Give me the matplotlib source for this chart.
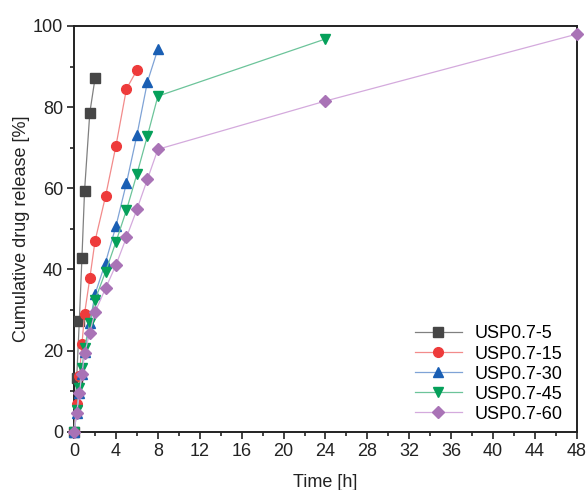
import matplotlib.pyplot as plt
from matplotlib.ticker import MultipleLocator

plt.rcParams['font.family'] = ['Liberation Sans', 'DejaVu Sans']

# release data, time in hours, cumulative release in %
t_5 = [0, 0.25, 0.5, 0.75, 1, 1.5, 2]
rel_5 = [0, 13.2, 27.3, 42.9, 59.4, 78.6, 87.1]

t_15 = [0, 0.25, 0.5, 0.75, 1, 1.5, 2, 3, 4, 5, 6]
rel_15 = [0, 6.8, 13.7, 21.5, 29.1, 37.8, 47.0, 58.0, 70.5, 84.5, 89.1]

t_30 = [0, 0.25, 0.5, 0.75, 1, 1.5, 2, 3, 4, 5, 6, 7, 8]
rel_30 = [0, 4.5, 9.6, 14.2, 19.6, 26.8, 33.9, 41.7, 50.7, 61.3, 73.1, 86.2, 94.3]

t_45 = [0, 0.25, 0.5, 0.75, 1, 1.5, 2, 3, 4, 5, 6, 7, 8, 24]
rel_45 = [0, 5.3, 10.7, 15.6, 20.7, 26.8, 32.5, 39.4, 46.8, 54.6, 63.5, 72.9, 82.7, 96.8]

t_60 = [0, 0.25, 0.5, 0.75, 1, 1.5, 2, 3, 4, 5, 6, 7, 8, 24, 48]
rel_60 = [0, 4.7, 9.5, 14.2, 19.3, 24.4, 29.5, 35.3, 41.1, 47.9, 54.8, 62.2, 69.6, 81.5, 98.0]

series = [
    ('USP0.7-5', t_5, rel_5, 's', '#464646', '#808080', 6.5),
    ('USP0.7-15', t_15, rel_15, 'o', '#ee3b3b', '#f28b8b', 7),
    ('USP0.7-30', t_30, rel_30, '^', '#1a5fb4', '#7fa3d6', 7.5),
    ('USP0.7-45', t_45, rel_45, 'v', '#05a05a', '#6cc49a', 7.5),
    ('USP0.7-60', t_60, rel_60, 'D', '#a973b6', '#d4aadd', 6),
]

fig = plt.figure(figsize=(5.88, 4.90), dpi=100)
ax = fig.add_axes([0.126, 0.119, 0.855, 0.828])

for name, t, rel, mk, mc, lc, ms in series:
    ax.plot(t, rel, color=lc, linewidth=0.9, marker=mk, markersize=ms,
            markerfacecolor=mc, markeredgecolor=mc, label=name, clip_on=False, zorder=3)

ax.set_xlim(0, 48)
ax.set_ylim(0, 100)
ax.xaxis.set_major_locator(MultipleLocator(4))
ax.xaxis.set_minor_locator(MultipleLocator(2))
ax.yaxis.set_major_locator(MultipleLocator(20))
ax.yaxis.set_minor_locator(MultipleLocator(10))

for sp in ax.spines.values():
    sp.set_linewidth(1.4)
    sp.set_color('#222222')
ax.tick_params(which='major', direction='out', length=5, width=1.2, labelsize=13,
               colors='#222222', pad=3)
ax.tick_params(which='minor', direction='out', length=3, width=1.2, colors='#222222')

ax.set_xlabel('Time [h]', fontsize=13, color='#222222', labelpad=10)
ax.set_ylabel('Cumulative drug release [%]', fontsize=13, color='#222222', labelpad=2)

ax.legend(loc='lower right', bbox_to_anchor=(0.972, 0.022), frameon=False, fontsize=13,
          handlelength=2.6, handletextpad=0.72, labelspacing=0.17, borderpad=0.0,
          borderaxespad=0.0)

fig.savefig('out.png', dpi=100)
